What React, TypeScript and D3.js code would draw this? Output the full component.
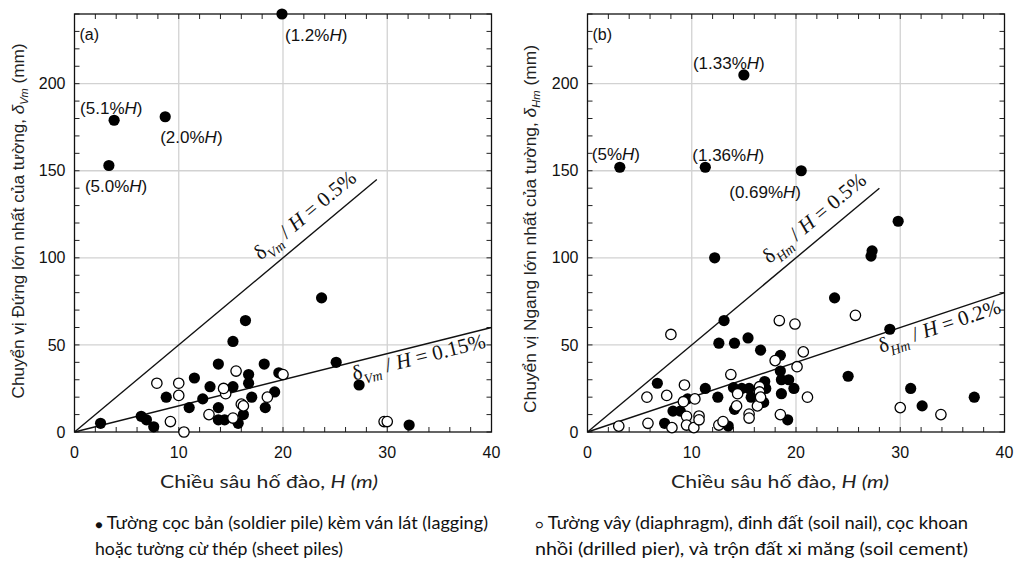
import * as d3 from 'd3';

const W = 1024;
const HGT = 566;

const SANS = "'Liberation Sans', Arial, sans-serif";
const SERIF = "'Liberation Serif', 'Times New Roman', serif";
const CAL = "Lato, 'Open Sans', sans-serif";

const X_TICKS = [0, 10, 20, 30, 40];
const Y_TICKS = [0, 50, 100, 150, 200];

// excavation depth H (m), wall movement (mm)
const soldierA: [number, number][] = [
  [3.8, 179], [8.7, 181], [3.3, 153], [19.9, 240],
  [2.5, 5], [6.4, 9], [6.9, 7], [7.6, 3], [8.8, 20], [11.5, 31], [11.0, 14],
  [12.3, 19], [13.0, 26], [13.8, 39], [13.8, 14], [13.8, 7], [14.4, 7],
  [15.2, 52], [15.2, 26], [16.4, 64], [16.7, 33], [16.7, 28], [17.0, 20],
  [16.2, 10], [15.7, 5], [18.2, 39], [18.3, 14], [19.2, 23], [19.6, 34],
  [23.7, 77], [25.1, 40], [27.3, 27], [32.1, 4],
];
const otherA: [number, number][] = [
  [7.9, 28], [10.0, 28], [10.0, 21], [9.2, 6], [10.5, 0], [12.9, 10],
  [14.5, 22], [14.3, 25], [15.5, 35], [16.0, 16], [16.2, 15], [15.2, 8],
  [18.5, 20], [20.0, 33], [29.7, 6], [30.0, 6],
];
const soldierB: [number, number][] = [
  [3.1, 152], [11.3, 152], [15.0, 205], [20.5, 150], [12.2, 100], [29.8, 121],
  [27.3, 104], [27.2, 101], [23.7, 77], [29.0, 59], [25.0, 32], [31.0, 25],
  [32.1, 15], [37.1, 20], [6.7, 28], [7.4, 5], [8.2, 12], [8.9, 12], [9.6, 19],
  [11.3, 25], [13.5, 3.4], [12.5, 20], [12.6, 51], [13.1, 64], [14.1, 51],
  [14.1, 13], [14.0, 25.5], [14.8, 25], [15.5, 25], [15.4, 54], [15.7, 20],
  [16.6, 47], [16.9, 17], [17.0, 29], [17.1, 25], [18.5, 44], [18.5, 35],
  [18.6, 30], [18.6, 22], [19.3, 30], [19.8, 25], [19.2, 7],
];
const otherB: [number, number][] = [
  [3.0, 3.4], [5.7, 20], [5.8, 5], [7.6, 21], [8.0, 56], [8.1, 2.5], [9.3, 27],
  [9.2, 17.4], [10.3, 19], [9.5, 9], [9.5, 4], [10.2, 2.5], [10.7, 9.2],
  [10.7, 7], [12.6, 4], [13.0, 6], [13.75, 33], [14.3, 15], [14.4, 22],
  [15.5, 10.3], [15.5, 8], [16.5, 26], [16.5, 23], [16.3, 15], [16.6, 20],
  [18.0, 41], [18.4, 64], [19.9, 62], [20.1, 37.5], [20.7, 46], [21.1, 20],
  [25.7, 67], [30.0, 14], [33.9, 10], [18.5, 10],
];

// ratio lines: percent of H, and depth where the line stops
const guidePctA = [0.5, 0.15];
const guideEndA = [29, 40];
const guidePctB = [0.5, 0.2];
const guideEndB = [28, 40];

// labelled outliers: [H, δ, text]
const notesA: [number, number, string][] = [
  [3.8, 179, '5.1%'], [8.7, 181, '2.0%'], [3.3, 153, '5.0%'], [19.9, 240, '1.2%'],
];
const notesB: [number, number, string][] = [
  [15.0, 205, '1.33%'], [3.1, 152, '5%'], [11.3, 152, '1.36%'], [20.5, 150, '0.69%'],
];
const noteOffsetA = [[-34, -6], [-5, 26], [-24, 26], [3, 27]];
const noteOffsetB = [[-51, -6], [-28, -7], [-13, -6], [-72, 27]];

type PanelProps = {
  left: number;
  tag: string;
  sub: string;
  soldier: [number, number][];
  other: [number, number][];
  pcts: number[];
  ends: number[];
  labelStart: number[];
  labelOffset: number[];
  notes: [number, number, string][];
  noteOffset: number[][];
  yTitle: string;
  yTitleX: number;
  yTitleY: number;
  yTitleLen: number;
  xTitleX: number;
};

function Panel(p: PanelProps) {
  const x = d3.scaleLinear().domain([0, 40]).range([p.left, p.left + 417]);
  const y = d3.scaleLinear().domain([0, 240]).range([432, 14]);
  const [x0, x1] = x.range();
  const [y0, y1] = y.range();
  const minorX = d3.range(0, 41, 2);
  const minorY = d3.range(0, 241, 10);

  return (
    <g>
      {/* grid */}
      {[10, 20, 30].map((t) => (
        <line key={'gx' + t} x1={x(t)} x2={x(t)} y1={y0} y2={y1} stroke="#d2d2d2" strokeWidth={1.3} />
      ))}
      {[50, 100, 150, 200].map((t) => (
        <line key={'gy' + t} x1={x0} x2={x1} y1={y(t)} y2={y(t)} stroke="#d2d2d2" strokeWidth={1.3} />
      ))}
      {/* ticks, pointing inward on all four sides */}
      {minorX.map((t) => (
        <g key={'tx' + t} stroke="#222" strokeWidth={1}>
          <line x1={x(t)} x2={x(t)} y1={y0} y2={y0 - 5} />
          <line x1={x(t)} x2={x(t)} y1={y1} y2={y1 + 5} />
        </g>
      ))}
      {minorY.map((t) => (
        <g key={'ty' + t} stroke="#222" strokeWidth={1}>
          <line x1={x0} x2={x0 + 5} y1={y(t)} y2={y(t)} />
          <line x1={x1} x2={x1 - 5} y1={y(t)} y2={y(t)} />
        </g>
      ))}
      <rect x={x0} y={y1} width={x1 - x0} height={y0 - y1} fill="none" stroke="#111" strokeWidth={1.3} />

      {X_TICKS.map((t) => (
        <text key={'lx' + t} x={x(t)} y={458} textAnchor="middle" fontFamily={SANS} fontSize={16} fill="#111">
          {t}
        </text>
      ))}
      {Y_TICKS.map((t) => (
        <text key={'ly' + t} x={x0 - 9} y={y(t)} dy="0.35em" textAnchor="end" fontFamily={SANS} fontSize={16} fill="#111">
          {t}
        </text>
      ))}

      {/* ratio lines and their labels */}
      {p.pcts.map((pct, i) => {
        const a = d3.line()([
          [x(0), y(0)],
          [x(p.ends[i]), y(p.ends[i] * pct * 10)],
        ]);
        const ang = (Math.atan2(y(40 * pct * 10) - y(0), x(40) - x(0)) * 180) / Math.PI;
        const h = p.labelStart[i];
        return (
          <g key={'g' + i}>
            <path d={a || ''} stroke="#111" strokeWidth={1.4} fill="none" />
            <text
              transform={`translate(${x(h)},${y(h * pct * 10)}) rotate(${ang})`}
              y={p.labelOffset[i]}
              fontFamily={SERIF}
              fontSize={21}
              fill="#111"
            >
              δ
              <tspan fontStyle="italic" fontSize={14} dy={6}>{p.sub}</tspan>
              <tspan dy={-6}> / </tspan>
              <tspan fontStyle="italic">H</tspan>
              <tspan>{` = ${pct}%`}</tspan>
            </text>
          </g>
        );
      })}

      {/* points */}
      {p.soldier.map(([h, d], i) => (
        <circle key={'s' + i} cx={x(h)} cy={y(d)} r={5.6} fill="#000" />
      ))}
      {p.other.map(([h, d], i) => (
        <circle key={'o' + i} cx={x(h)} cy={y(d)} r={5.2} fill="#fff" stroke="#000" strokeWidth={1.3} />
      ))}

      {p.notes.map(([h, d, t], i) => (
        <text key={'n' + i} x={x(h) + p.noteOffset[i][0]} y={y(d) + p.noteOffset[i][1]} fontFamily={SANS} fontSize={17} fill="#111">
          ({t}
          <tspan fontStyle="italic">H</tspan>)
        </text>
      ))}

      <text x={x0 + 5} y={40} fontFamily={SANS} fontSize={16} fill="#111">
        {p.tag}
      </text>

      <text
        transform={`translate(${p.yTitleX},${p.yTitleY}) rotate(-90)`}
        textAnchor="middle"
        fontFamily={SANS}
        fontSize={17}
        fill="#222"
        textLength={p.yTitleLen}
        lengthAdjust="spacingAndGlyphs"
      >
        {p.yTitle}
        <tspan fontStyle="italic">δ</tspan>
        <tspan fontStyle="italic" fontSize={11} dy={4}>{p.sub}</tspan>
        <tspan dy={-4}> (mm)</tspan>
      </text>

      <text
        x={p.xTitleX}
        y={488}
        textAnchor="middle"
        fontFamily={CAL}
        fontSize={17}
        fill="#222"
        textLength={218}
        lengthAdjust="spacingAndGlyphs"
      >
        Chiều sâu hố đào, <tspan fontStyle="italic">H (m)</tspan>
      </text>
    </g>
  );
}

export default function App() {
  return (
    <svg
      width={W}
      height={HGT}
      viewBox={`0 0 ${W} ${HGT}`}
      style={{ position: 'absolute', left: 0, top: 0, background: '#fff' }}
    >
      <rect width={W} height={HGT} fill="#fff" />
      <Panel
        left={74.5}
        tag="(a)"
        sub="Vm"
        soldier={soldierA}
        other={otherA}
        pcts={guidePctA}
        ends={guideEndA}
        labelStart={[18.6, 26.4]}
        labelOffset={[-12, 18]}
        notes={notesA}
        noteOffset={noteOffsetA}
        yTitle="Chuyển vị Đứng lớn nhất của tường, "
        yTitleX={24}
        yTitleY={221}
        yTitleLen={355}
        xTitleX={269}
      />
      <Panel
        left={587.5}
        tag="(b)"
        sub="Hm"
        soldier={soldierB}
        other={otherB}
        pcts={guidePctB}
        ends={guideEndB}
        labelStart={[18.2, 27.6]}
        labelOffset={[-12, 18]}
        notes={notesB}
        noteOffset={noteOffsetB}
        yTitle="Chuyển vị Ngang lớn nhất của tường, "
        yTitleX={536}
        yTitleY={229}
        yTitleLen={368}
        xTitleX={780}
      />
      <g fontFamily={CAL} fontSize={17} fill="#111">
        <text x={95} y={529} textLength={393} lengthAdjust="spacingAndGlyphs">
          <tspan fontSize={12}>●</tspan> Tường cọc bản (soldier pile) kèm ván lát (lagging)
        </text>
        <text x={95} y={555} textLength={248} lengthAdjust="spacingAndGlyphs">
          hoặc tường cừ thép (sheet piles)
        </text>
        <text x={535} y={529} textLength={433} lengthAdjust="spacingAndGlyphs">
          <tspan fontSize={12}>○</tspan> Tường vây (diaphragm), đinh đất (soil nail), cọc khoan
        </text>
        <text x={535} y={555} textLength={433} lengthAdjust="spacingAndGlyphs">
          nhồi (drilled pier), và trộn đất xi măng (soil cement)
        </text>
      </g>
    </svg>
  );
}
